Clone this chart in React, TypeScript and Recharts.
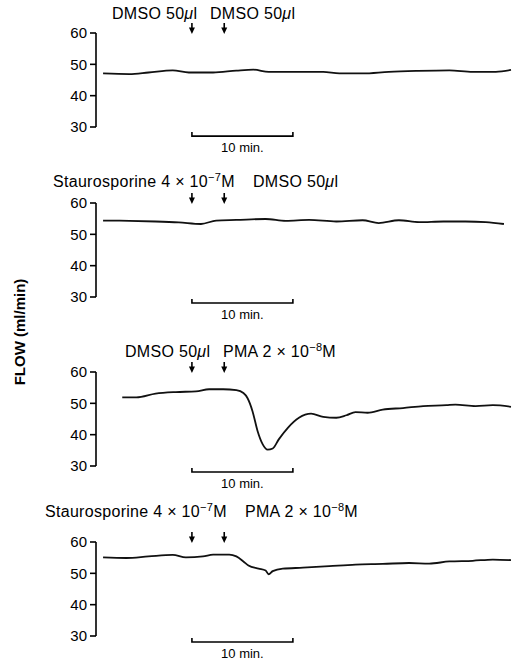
import { LineChart, Line, XAxis, YAxis, ReferenceDot, ReferenceLine } from 'recharts';

const FONT = '"Liberation Sans", Arial, Helvetica, sans-serif';

// minutes from the left axis, flow in ml/min
const trace1Min = [0.7, 3.3, 5.2, 7.6, 9.2, 11.6, 13.9, 15.6, 17.1, 19.8, 22.5, 24.1, 26.4, 29.0, 31.7, 35.0, 37.3, 39.6, 41.1];
const trace1Flow = [47.1, 46.9, 47.4, 48.1, 47.4, 47.4, 48.0, 48.3, 47.6, 47.6, 47.6, 47.1, 47.1, 47.6, 47.9, 48.1, 47.6, 47.6, 48.2];

const trace2Min = [0.7, 3.3, 5.9, 8.2, 10.4, 11.9, 13.9, 16.8, 18.8, 21.1, 23.8, 26.4, 28.0, 30.0, 32.0, 34.4, 36.6, 38.6, 40.4];
const trace2Flow = [54.4, 54.3, 54.1, 53.8, 53.3, 54.4, 54.6, 54.9, 54.3, 54.6, 54.1, 54.5, 53.6, 54.5, 53.9, 54.1, 54.1, 53.9, 53.3];

const trace3Min = [2.6, 4.0, 5.9, 7.9, 9.9, 11.2, 12.6, 13.9, 14.6, 15.0, 15.5, 16.0, 16.5, 17.0, 17.5, 18.1, 19.0, 20.1, 21.3, 22.5, 23.8, 24.8, 25.7, 26.9, 28.4, 30.4, 32.4, 34.7, 35.6, 37.6, 39.3, 41.1];
const trace3Flow = [51.9, 51.9, 53.1, 53.6, 53.8, 54.5, 54.5, 54.2, 53.3, 51.7, 47.5, 41.2, 37.0, 35.2, 35.6, 38.5, 42.2, 45.4, 46.7, 45.7, 45.4, 46.2, 47.2, 47.0, 48.0, 48.5, 49.1, 49.4, 49.6, 49.1, 49.4, 48.9];

const trace4Min = [0.7, 3.0, 5.2, 7.6, 8.9, 10.6, 11.6, 13.2, 13.9, 14.6, 15.1, 16.1, 16.8, 17.1, 17.5, 18.5, 20.5, 23.1, 25.7, 28.4, 31.0, 33.0, 35.0, 37.3, 39.3, 41.1];
const trace4Flow = [55.1, 54.9, 55.4, 55.9, 55.1, 55.4, 56.0, 56.0, 55.4, 53.8, 52.5, 51.5, 50.9, 49.7, 50.7, 51.5, 51.8, 52.3, 52.8, 53.0, 53.3, 53.1, 53.8, 54.0, 54.4, 54.2];

const arrowMin = [9.5, 12.7];
const scaleBarMin = [9.5, 19.5];
const flowTicks = [30, 40, 50, 60];

const zip = (mins: number[], flows: number[]) => mins.map((m, i) => ({ min: m, flow: flows[i] }));

const Sup = ({ children }: { children: string }) => (
  <sup style={{ fontSize: 11, lineHeight: 0, verticalAlign: 6 }}>{children}</sup>
);

const STAURO = <>Staurosporine 4 × 10<Sup>−7</Sup>M</>;
const PMA = <>PMA 2 × 10<Sup>−8</Sup>M</>;
const DMSO = <>DMSO 50<i>μ</i>l</>;

const panels = [
  { top: 0, height: 170, data: zip(trace1Min, trace1Flow), barFlow: 27.1, labelTop: 6, labels: [{ x: 112, text: DMSO }, { x: 210, text: DMSO }] },
  { top: 170, height: 170, data: zip(trace2Min, trace2Flow), barFlow: 28.1, labelTop: 174, labels: [{ x: 53, text: STAURO }, { x: 253, text: DMSO }] },
  { top: 339, height: 170, data: zip(trace3Min, trace3Flow), barFlow: 28.1, labelTop: 344, labels: [{ x: 125, text: DMSO }, { x: 223, text: PMA }] },
  { top: 509, height: 157, data: zip(trace4Min, trace4Flow), barFlow: 28.1, labelTop: 504, labels: [{ x: 45, text: STAURO }, { x: 245, text: PMA }] },
];

const Arrow = (props: any) => {
  const { cx, cy } = props;
  return (
    <g>
      <line x1={cx} y1={cy - 10} x2={cx} y2={cy - 4} stroke="#000" strokeWidth={1.6} />
      <path d={`M${cx - 3},${cy - 5.5} L${cx + 3},${cy - 5.5} L${cx},${cy + 1} Z`} fill="#000" />
    </g>
  );
};

const ScaleBar = (props: any) => {
  const { x1, y1, x2 } = props;
  return (
    <g>
      <path d={`M${x1},${y1 - 4} L${x1},${y1} L${x2},${y1} L${x2},${y1 - 4}`} fill="none" stroke="#000" strokeWidth={1.6} />
      <text x={(x1 + x2) / 2} y={y1 + 16} textAnchor="middle" fontSize={13} fontFamily={FONT} fill="#000">
        10 min.
      </text>
    </g>
  );
};

export default function App() {
  return (
    <div style={{ position: 'absolute', left: 0, top: 0, width: 512, height: 666, overflow: 'hidden', background: '#fff', fontFamily: FONT, color: '#000' }}>
      {panels.map((p, i) => (
        <div key={i} style={{ position: 'absolute', left: 0, top: p.top }}>
          <LineChart width={512} height={p.height} data={p.data} margin={{ top: 33, right: 0, bottom: p.height - 127, left: 56 }}>
            <XAxis type="number" dataKey="min" domain={[0, 41.2]} hide />
            <YAxis
              type="number"
              domain={[30, 60]}
              ticks={flowTicks}
              interval={0}
              width={40}
              tickSize={6}
              tickMargin={3}
              axisLine={{ stroke: '#000', strokeWidth: 1.6 }}
              tickLine={{ stroke: '#000', strokeWidth: 1.6 }}
              tick={{ fill: '#000', fontSize: 15, fontFamily: FONT }}
            />
            <Line type="monotone" dataKey="flow" stroke="#111" strokeWidth={1.8} dot={false} isAnimationActive={false} />
            {arrowMin.map((m) => (
              <ReferenceDot key={m} x={m} y={60} ifOverflow="visible" shape={Arrow} />
            ))}
            <ReferenceLine
              segment={[{ x: scaleBarMin[0], y: p.barFlow }, { x: scaleBarMin[1], y: p.barFlow }]}
              ifOverflow="visible"
              shape={ScaleBar}
            />
          </LineChart>
        </div>
      ))}
      {panels.map((p, i) =>
        p.labels.map((l, j) => (
          <div key={`${i}-${j}`} style={{ position: 'absolute', left: l.x, top: p.labelTop, fontSize: 16, lineHeight: '16px', letterSpacing: 0.3, whiteSpace: 'nowrap' }}>
            {l.text}
          </div>
        ))
      )}
      <div
        style={{
          position: 'absolute',
          left: 19,
          top: 332,
          transform: 'translate(-50%, -50%) rotate(-90deg)',
          fontSize: 15,
          fontWeight: 'bold',
          whiteSpace: 'nowrap',
        }}
      >
        FLOW (ml/min)
      </div>
    </div>
  );
}
